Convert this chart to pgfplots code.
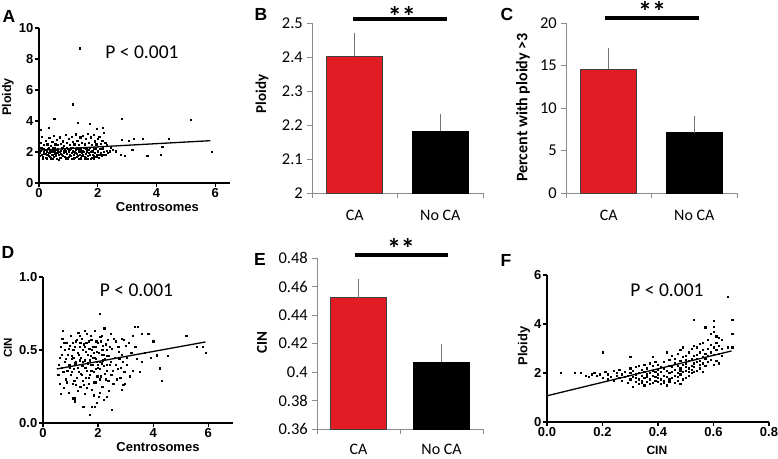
\documentclass[border=0pt]{standalone}
\usepackage{pgfplots}
\pgfplotsset{compat=1.18}
\usepackage{pgfplotstable}
\usepackage{fontspec}
\setmainfont{Carlito}
\newfontfamily\arial{Liberation Sans}
\definecolor{cared}{RGB}{226,28,36}
\definecolor{axgray}{RGB}{140,140,140}
\definecolor{errgray}{RGB}{115,115,115}

\pgfplotstableread{
x y
0.02 1.95
0.05 2.10
0.08 1.80
0.10 2.25
0.12 1.70
0.15 2.00
0.18 1.90
0.20 2.15
0.22 1.65
0.25 2.05
0.28 1.85
0.30 2.20
0.32 1.75
0.35 1.95
0.38 2.10
0.40 1.60
0.42 2.00
0.45 1.85
0.48 2.25
0.50 1.70
0.52 2.05
0.55 1.90
0.58 2.15
0.60 1.55
0.62 1.95
0.65 2.20
0.68 1.80
0.70 2.00
0.72 1.65
0.75 2.10
0.78 1.85
0.80 2.30
0.82 1.75
0.85 1.95
0.88 2.15
0.90 1.60
0.92 2.05
0.95 1.90
0.98 2.20
1.00 1.70
1.02 2.00
1.05 1.85
1.08 2.25
1.10 1.55
1.12 1.95
1.15 2.10
1.18 1.80
1.20 2.00
1.22 1.65
1.25 2.15
1.28 1.90
1.30 2.30
1.32 1.75
1.35 2.05
1.38 1.85
1.40 2.20
1.42 1.60
1.45 1.95
1.48 2.10
1.50 1.80
1.52 2.00
1.55 1.70
1.58 2.25
1.60 1.90
1.62 2.05
1.65 1.55
1.68 1.95
1.70 2.15
1.72 1.80
1.75 2.00
1.78 1.65
1.80 2.10
1.82 1.85
1.85 1.75
1.88 2.20
1.90 1.95
1.95 1.70
2.00 2.05
2.05 1.80
2.10 1.95
2.15 1.85
2.20 2.00
0.03 1.75
0.07 2.30
0.13 1.55
0.17 2.20
0.23 1.90
0.27 1.60
0.33 2.30
0.37 1.70
0.43 2.15
0.47 1.55
0.53 2.30
0.57 1.75
0.63 2.10
0.67 1.50
0.73 1.90
0.77 2.25
0.83 2.05
0.87 1.70
0.93 2.30
0.97 1.60
1.03 2.15
1.07 1.75
1.13 2.30
1.17 1.60
1.23 1.95
1.27 1.70
1.33 2.20
1.37 1.55
1.43 2.05
1.47 1.75
1.53 2.30
1.57 1.60
1.63 2.20
1.67 1.75
1.73 2.30
1.77 1.55
1.83 2.05
1.87 1.60
1.93 2.25
1.97 1.85
2.03 1.65
2.08 2.20
2.13 1.75
2.18 2.25
2.25 1.80
2.30 2.10
2.35 1.95
2.40 2.05
0.05 2.60
0.10 3.00
0.15 2.45
0.22 2.75
0.28 2.50
0.35 2.90
0.40 2.40
0.45 2.65
0.50 3.05
0.55 2.50
0.60 2.80
0.65 2.45
0.70 2.95
0.75 2.55
0.80 2.70
0.85 2.40
0.90 3.10
0.95 2.60
1.00 2.85
1.05 2.45
1.10 3.00
1.15 2.65
1.20 2.50
1.25 3.15
1.30 2.75
1.35 2.45
1.40 2.95
1.45 2.60
1.50 3.05
1.55 2.50
1.60 2.85
1.65 3.20
1.70 2.60
1.75 2.95
1.80 2.45
1.85 3.10
1.90 2.70
1.95 2.50
2.00 2.85
2.05 3.00
2.10 2.55
2.15 2.75
2.20 3.25
2.25 2.60
2.30 2.45
2.45 2.30
2.50 2.15
2.60 2.05
1.39 8.70
1.14 5.08
0.52 4.13
2.81 4.13
5.15 4.10
1.31 3.90
1.73 3.83
0.33 3.57
0.07 3.42
1.96 3.48
2.18 3.59
5.89 2.02
4.42 2.84
3.54 2.88
4.14 1.81
3.68 1.76
4.19 2.34
3.21 2.88
3.04 2.73
2.81 2.77
3.17 2.13
2.93 1.76
2.78 1.81
}\tblA

\pgfplotstableread{
x y
0.55 0.33
0.60 0.45
0.62 0.27
0.65 0.52
0.68 0.38
0.70 0.58
0.72 0.63
0.75 0.24
0.78 0.42
0.80 0.50
0.82 0.30
0.85 0.55
0.88 0.36
0.90 0.47
0.92 0.21
0.95 0.40
0.98 0.53
1.00 0.33
1.02 0.60
1.05 0.44
1.08 0.27
1.10 0.50
1.12 0.37
1.15 0.15
1.18 0.56
1.20 0.42
1.22 0.31
1.25 0.48
1.28 0.62
1.30 0.35
1.32 0.52
1.35 0.25
1.38 0.45
1.40 0.58
1.42 0.39
1.45 0.29
1.48 0.54
1.50 0.43
1.52 0.20
1.55 0.49
1.58 0.36
1.60 0.61
1.62 0.41
1.65 0.27
1.68 0.51
1.70 0.33
1.72 0.46
1.75 0.57
1.78 0.23
1.80 0.40
1.82 0.52
1.85 0.35
1.88 0.63
1.90 0.44
1.92 0.28
1.95 0.49
1.98 0.38
2.00 0.55
2.02 0.18
2.05 0.42
2.08 0.59
2.10 0.32
2.12 0.47
2.15 0.25
2.18 0.53
2.20 0.39
2.22 0.65
2.25 0.44
2.28 0.30
2.30 0.50
2.32 0.36
2.35 0.57
2.38 0.22
2.40 0.46
2.42 0.40
2.45 0.61
2.48 0.33
2.50 0.51
2.55 0.27
2.60 0.45
2.65 0.56
2.70 0.37
2.75 0.49
2.80 0.31
2.85 0.58
2.90 0.42
2.95 0.35
3.00 0.53
0.58 0.40
0.63 0.20
0.67 0.47
0.73 0.35
0.77 0.55
0.83 0.44
0.87 0.28
0.93 0.51
0.97 0.38
1.03 0.46
1.07 0.55
1.13 0.29
1.17 0.41
1.23 0.57
1.27 0.22
1.33 0.43
1.37 0.34
1.43 0.50
1.47 0.26
1.53 0.38
1.57 0.55
1.63 0.47
1.67 0.31
1.73 0.40
1.77 0.50
1.83 0.28
1.87 0.45
1.93 0.56
1.97 0.32
2.03 0.48
2.07 0.37
2.13 0.60
2.17 0.43
2.23 0.34
2.27 0.54
2.33 0.46
2.37 0.29
2.43 0.52
2.47 0.42
2.53 0.36
2.57 0.58
2.63 0.40
2.67 0.30
2.73 0.52
2.77 0.44
2.83 0.38
2.87 0.47
2.93 0.57
2.97 0.27
3.05 0.45
1.05 0.35
1.15 0.52
1.25 0.38
1.35 0.55
1.45 0.42
1.55 0.31
1.65 0.56
1.75 0.36
1.85 0.48
1.95 0.42
2.05 0.30
2.15 0.50
1.10 0.45
1.30 0.47
1.50 0.52
1.70 0.43
1.90 0.37
2.10 0.56
1.20 0.26
1.40 0.33
1.60 0.24
1.80 0.45
2.00 0.40
2.20 0.47
1.32 0.60
1.52 0.63
1.72 0.60
1.92 0.52
2.12 0.41
2.32 0.40
1.15 0.17
1.46 0.11
1.70 0.055
1.76 0.11
1.88 0.11
2.49 0.09
1.10 0.17
2.30 0.18
2.05 0.21
2.20 0.16
1.85 0.19
1.95 0.14
2.07 0.75
3.33 0.66
3.43 0.66
3.58 0.61
3.82 0.61
5.20 0.60
4.00 0.56
4.30 0.29
4.24 0.375
4.12 0.465
3.57 0.42
3.70 0.48
3.27 0.36
3.15 0.32
2.91 0.26
2.85 0.23
3.10 0.55
3.20 0.48
3.35 0.52
3.50 0.35
3.25 0.60
4.54 0.46
5.57 0.525
5.80 0.52
5.90 0.48
3.90 0.45
3.05 0.40
3.40 0.44
}\tblD

\pgfplotstableread{
x y
0.05 2.00
0.10 2.00
0.12 2.02
0.14 1.90
0.15 1.85
0.16 1.95
0.17 2.00
0.18 1.88
0.19 1.95
0.20 2.85
0.20 1.80
0.21 2.05
0.22 1.75
0.22 1.95
0.23 1.85
0.24 2.10
0.24 1.70
0.25 1.90
0.25 2.00
0.26 1.80
0.26 2.15
0.27 1.95
0.27 1.70
0.28 1.85
0.28 2.05
0.29 1.60
0.29 1.90
0.30 2.67
0.30 2.20
0.30 1.75
0.30 2.00
0.31 1.45
0.31 1.85
0.31 2.10
0.32 1.65
0.32 1.95
0.32 2.25
0.32 1.80
0.33 1.55
0.33 1.75
0.33 2.00
0.33 2.30
0.34 1.70
0.34 1.90
0.34 2.15
0.34 1.60
0.35 1.50
0.35 1.80
0.35 2.05
0.35 2.35
0.36 1.65
0.36 1.85
0.36 2.20
0.36 1.95
0.37 1.75
0.37 2.00
0.37 2.40
0.37 1.55
0.38 1.60
0.38 1.90
0.38 2.10
0.38 2.30
0.38 2.65
0.39 1.70
0.39 1.85
0.39 2.05
0.39 2.45
0.40 1.65
0.40 1.95
0.40 2.15
0.40 2.35
0.40 1.80
0.41 1.55
0.41 1.75
0.41 2.05
0.41 2.25
0.42 1.70
0.42 1.90
0.42 2.20
0.42 2.45
0.42 1.60
0.43 1.50
0.43 1.85
0.43 2.10
0.43 2.85
0.44 1.75
0.44 2.00
0.44 2.30
0.44 2.55
0.44 1.65
0.45 1.80
0.45 2.05
0.45 2.25
0.45 2.70
0.46 1.60
0.46 1.90
0.46 2.15
0.46 2.40
0.46 2.60
0.47 1.70
0.47 2.00
0.47 2.30
0.47 2.80
0.47 1.85
0.48 1.55
0.48 1.95
0.48 2.20
0.48 2.50
0.48 2.95
0.48 2.10
0.49 1.75
0.49 2.05
0.49 2.35
0.49 2.65
0.49 3.05
0.50 1.80
0.50 2.10
0.50 2.40
0.50 2.70
0.50 2.25
0.50 2.55
0.51 1.90
0.51 2.20
0.51 2.50
0.51 2.85
0.51 2.05
0.52 2.00
0.52 2.30
0.52 2.60
0.52 3.00
0.52 2.15
0.53 2.05
0.53 2.40
0.53 2.70
0.53 3.10
0.53 4.19
0.53 2.25
0.54 2.10
0.54 2.45
0.54 2.75
0.54 3.05
0.54 2.60
0.55 2.20
0.55 2.50
0.55 2.85
0.55 3.20
0.55 2.35
0.56 2.05
0.56 2.40
0.56 2.65
0.56 2.95
0.56 3.25
0.57 2.30
0.57 2.60
0.57 3.87
0.57 2.80
0.58 2.45
0.58 2.70
0.58 3.00
0.58 3.35
0.59 2.55
0.59 2.85
0.59 3.15
0.59 3.60
0.60 2.35
0.60 2.75
0.60 3.70
0.60 3.90
0.60 4.15
0.60 3.05
0.61 2.50
0.61 2.95
0.61 3.25
0.61 3.50
0.62 2.40
0.62 2.80
0.62 3.10
0.62 3.45
0.63 2.70
0.63 3.00
0.63 3.35
0.65 5.12
0.65 3.05
0.667 4.17
0.667 3.60
0.667 3.05
}\tblF

\pgfplotsset{
  gp/.style={scale only axis, anchor=south west,
    axis x line*=bottom, axis y line*=left,
    axis line style={line width=1.2pt, black, -},
    tick align=outside, major tick length=4pt,
    tick style={line width=1.2pt, black},
    /pgf/number format/assume math mode=true,
    tick label style={font=\arial\bfseries\fontsize{13}{14}\selectfont, inner sep=1.5pt},
    label style={inner sep=0pt},
  },
  xl/.style={scale only axis, anchor=south west, clip=false,
    axis x line*=bottom, axis y line*=left,
    axis line style={line width=0.7pt, axgray, -},
    tick align=outside, major tick length=5pt,
    tick style={line width=0.7pt, axgray},
    /pgf/number format/assume math mode=true,
    xmin=-0.5, xmax=1.5, xtick={-0.5,0.5,1.5}, xticklabels={},
    ybar, bar width=56pt, bar shift=0pt,
    yticklabel style={font=\fontsize{16.5}{18}\selectfont, inner sep=0pt, xshift=-4pt},
    ylabel style={font=\bfseries\fontsize{15}{18}\selectfont, inner sep=0pt},
  },
  dots/.style={only marks, mark=square*, mark size=0.6pt, black},
  reg/.style={black, line width=1.3pt, no marks},
  ebar/.style={error bars/.cd, y dir=plus, y explicit,
    error bar style={line width=0.9pt, errgray},
    error mark options={line width=0.9pt, errgray, mark size=4pt}},
}

\begin{document}
\begin{tikzpicture}
\path[use as bounding box] (0,0) rectangle (778pt,458pt);

% ---------- A ----------
\begin{axis}[gp, at={(39pt,275pt)}, width=191pt, height=155pt,
  xmin=0, xmax=6.5, ymin=0, ymax=10,
  xtick={0,2,4,6}, ytick={0,2,4,6,8,10},
  xlabel={Centrosomes}, ylabel={Ploidy},
  xlabel style={font=\arial\bfseries\fontsize{13}{14}\selectfont, at={(axis description cs:0.62,0)}, anchor=center, yshift=-24pt},
  ylabel style={font=\arial\bfseries\fontsize{12.5}{14}\selectfont, at={(axis description cs:0,0.555)}, anchor=center, yshift=31pt}]
\addplot[dots] table {\tblA};
\addplot[reg] coordinates {(0,2.12) (5.83,2.73)};
\end{axis}

% ---------- B ----------
\begin{axis}[xl, at={(312pt,265pt)}, width=171pt, height=170pt,
  ymin=2, ymax=2.5, ytick={2,2.1,2.2,2.3,2.4,2.5},
  yticklabels={2,2.1,2.2,2.3,2.4,2.5},
  ylabel={Ploidy},
  ylabel style={font=\bfseries\fontsize{15}{16}\selectfont, at={(axis description cs:0,0.582)}, anchor=center, yshift=50pt}]
\addplot[fill=cared, draw=black!75, line width=0.6pt, ebar] coordinates {(0,2.402) +- (0,0.058)};
\addplot[fill=black, draw=black, line width=0.6pt, ebar] coordinates {(1,2.181) +- (0,0.040)};
\draw[line width=3.5pt] (axis cs:-0.02,2.512) -- (axis cs:1.08,2.512);
\node[font=\bfseries\fontsize{28}{28}\selectfont, anchor=base] at (axis cs:0.55,2.49) {**};
\node[font=\fontsize{16}{18}\selectfont] at (axis cs:0,2) [yshift=-22pt] {CA};
\node[font=\fontsize{16}{18}\selectfont] at (axis cs:1,2) [yshift=-22pt] {No CA};
\end{axis}

% ---------- C ----------
\begin{axis}[xl, at={(566pt,265pt)}, width=171pt, height=170pt,
  ymin=0, ymax=20, ytick={0,5,10,15,20},
  yticklabels={0,5,10,15,20},
  ylabel={Percent with ploidy >3},
  ylabel style={font=\bfseries\fontsize{16}{18}\selectfont, at={(axis description cs:0,0.503)}, anchor=center, yshift=43pt}]
\addplot[fill=cared, draw=black!75, line width=0.6pt, ebar] coordinates {(0,14.55) +- (0,2.05)};
\addplot[fill=black, draw=black, line width=0.6pt, ebar] coordinates {(1,7.1) +- (0,1.53)};
\draw[line width=3.5pt] (axis cs:-0.044,20.59) -- (axis cs:1.056,20.59);
\node[font=\bfseries\fontsize{28}{28}\selectfont, anchor=base] at (axis cs:0.506,20.2) {**};
\node[font=\fontsize{16}{18}\selectfont] at (axis cs:0,0) [yshift=-22pt] {CA};
\node[font=\fontsize{16}{18}\selectfont] at (axis cs:1,0) [yshift=-22pt] {No CA};
\end{axis}

% ---------- D ----------
\begin{axis}[gp, at={(43pt,35pt)}, width=190pt, height=146pt,
  xmin=0, xmax=6.9, ymin=0, ymax=1,
  xtick={0,2,4,6}, ytick={0,0.5,1},
  yticklabel style={/pgf/number format/.cd, fixed, fixed zerofill, precision=1},
  xlabel={Centrosomes}, ylabel={CIN},
  xlabel style={font=\arial\bfseries\fontsize{13}{14}\selectfont, at={(axis description cs:0.605,0)}, anchor=center, yshift=-24pt},
  ylabel style={font=\arial\bfseries\fontsize{11.5}{14}\selectfont, at={(axis description cs:0,0.514)}, anchor=center, yshift=35pt}]
\addplot[dots] table {\tblD};
\addplot[reg] coordinates {(0.5,0.37) (5.9,0.555)};
\end{axis}

% ---------- E ----------
\begin{axis}[xl, at={(317pt,29pt)}, width=166pt, height=171pt,
  ymin=0.36, ymax=0.48, ytick={0.36,0.38,0.40,0.42,0.44,0.46,0.48},
  yticklabels={0.36,0.38,0.4,0.42,0.44,0.46,0.48},
  ylabel={CIN},
  ylabel style={font=\bfseries\fontsize{15}{16}\selectfont, at={(axis description cs:0,0.506)}, anchor=center, yshift=55pt}]
\addplot[fill=cared, draw=black!75, line width=0.6pt, ebar] coordinates {(0,0.4522) +- (0,0.0100)};
\addplot[fill=black, draw=black, line width=0.6pt, ebar] coordinates {(1,0.4068) +- (0,0.0098)};
\draw[line width=3.5pt] (axis cs:-0.042,0.4821) -- (axis cs:1.078,0.4821);
\node[font=\bfseries\fontsize{28}{28}\selectfont, anchor=base] at (axis cs:0.512,0.4800) {**};
\node[font=\fontsize{16}{18}\selectfont] at (axis cs:0,0.36) [yshift=-20pt] {CA};
\node[font=\fontsize{16}{18}\selectfont] at (axis cs:1,0.36) [yshift=-20pt] {No CA};
\end{axis}

% ---------- F ----------
\begin{axis}[gp, at={(547pt,36pt)}, width=222pt, height=147pt,
  xmin=0, xmax=0.8, ymin=0, ymax=6,
  xtick={0,0.2,0.4,0.6,0.8}, ytick={0,2,4,6},
  xticklabel style={/pgf/number format/.cd, fixed, fixed zerofill, precision=1},
  xlabel={CIN}, ylabel={Ploidy},
  xlabel style={font=\arial\bfseries\fontsize{12}{14}\selectfont, at={(axis description cs:0.495,0)}, anchor=center, yshift=-28pt},
  ylabel style={font=\arial\bfseries\fontsize{13}{14}\selectfont, at={(axis description cs:0,0.517)}, anchor=center, yshift=23pt}]
\addplot[dots] table {\tblF};
\addplot[reg] coordinates {(0,1.07) (0.665,2.90)};
\end{axis}

% ---------- panel letters and annotations ----------
\begin{scope}[every node/.style={font=\arial\bfseries\fontsize{17.5}{18}\selectfont, inner sep=0pt}]
\node at (9pt,442pt) {A};
\node at (261pt,444pt) {B};
\node at (507pt,444pt) {C};
\node at (8pt,206pt) {D};
\node at (260pt,199pt) {E};
\node at (506pt,198pt) {F};
\end{scope}
\begin{scope}[every node/.style={font=\fontsize{19.5}{22}\selectfont, inner sep=0pt}]
\node at (142pt,406pt) {P < 0.001};
\node at (136.5pt,168pt) {P < 0.001};
\node at (667pt,168pt) {P < 0.001};
\end{scope}
\end{tikzpicture}
\end{document}
